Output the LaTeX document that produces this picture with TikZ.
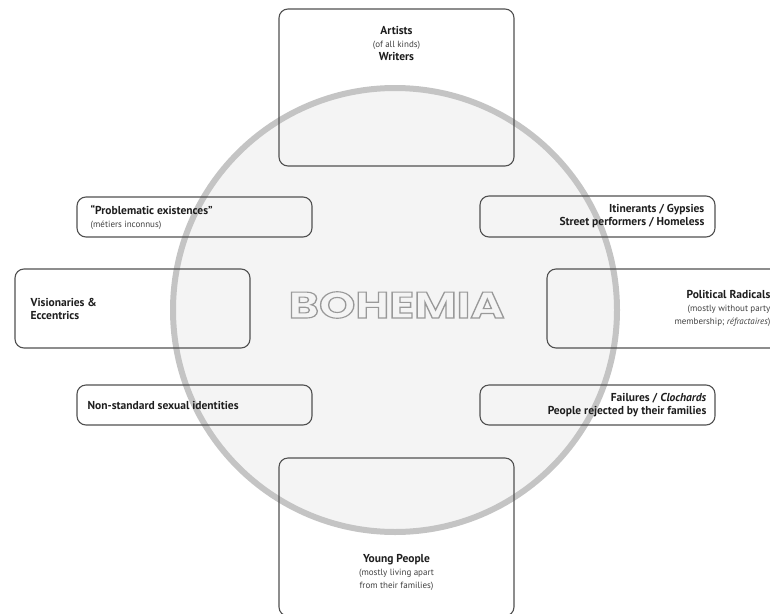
\documentclass[tikz,border=0pt]{standalone}
\usepackage{fontspec}
\setmainfont{PT Sans}
\newfontfamily\bohemfont{Poppins}
\usetikzlibrary{positioning}

\definecolor{ringgray}{HTML}{C4C4C4}
\definecolor{circlefill}{HTML}{F4F4F4}
\definecolor{boxgray}{HTML}{505050}
\definecolor{txtdark}{HTML}{1E1E1E}
\definecolor{notegray}{HTML}{404040}

\newcommand{\note}[1]{{\mdseries\fontsize{9}{11}\selectfont\color{notegray}#1}}
% hollow letters, stroked only
\newcommand{\hollow}[1]{\special{pdf:literal direct 1 Tr 1.1 w 0.6 G}#1\special{pdf:literal direct 0 Tr}}

\tikzset{
  group/.style={draw=boxgray, line width=1.1pt, rounded corners=9pt,
    minimum width=235pt, inner sep=0pt},
  grouptext/.style={inner sep=0pt, text=txtdark,
    font=\fontsize{11.5}{13}\selectfont\bfseries},
  ring/.style={circle, draw=ringgray, line width=6pt, fill=circlefill,
    minimum size=444pt, inner sep=0pt},
}

\begin{document}
\begin{tikzpicture}[x=1pt,y=-1pt]
\useasboundingbox (0,0) rectangle (770,613);
\clip (0,0) rectangle (770,613);

% the circle in the middle
\node[ring] (bohemia) at (395,310) {};
\node[inner sep=0pt] (bohemia text) at (396.5,305)
  {\scalebox{1.25}[1]{\bohemfont\bfseries\fontsize{37}{40}\selectfont\hollow{BOHEMIA}}};

% groups round it
\node[group, minimum height=157pt] (artists) at (396.5,87.5) {};
\node[group, minimum height=40pt] (problem) at (194.5,217) {};
\node[group, minimum height=41pt] (itinerants) at (597.5,216.5) {};
\node[group, minimum height=79pt] (visionaries) at (132.5,308.5) {};
\node[group, minimum height=79pt] (radicals) at (664.5,308.5) {};
\node[group, minimum height=40pt] (sexual) at (194.5,405) {};
\node[group, minimum height=40pt] (failures) at (597.5,405) {};
\node[group, minimum height=158pt] (young) at (396.5,537) {};

% their texts
\node[grouptext, align=center, below=18pt of artists.north] (artists text)
  {Artists\\\note{(of all kinds)}\\Writers};
\node[grouptext, align=left, right=14pt of problem.west] (problem text)
  {“Problematic existences”\\\note{(métiers inconnus)}};
\node[grouptext, align=right, left=11pt of itinerants.east] (itinerants text)
  {Itinerants / Gypsies\\Street performers / Homeless};
\node[grouptext, align=left, right=16pt of visionaries.west] (visionaries text)
  {Visionaries \&\\Eccentrics};
\node[grouptext, align=right, left=12pt of radicals.east] (radicals text)
  {Political Radicals\\\note{(mostly without party}\\\note{membership; \textit{réfractaires})}};
\node[grouptext, right=11pt of sexual.west] (sexual text)
  {Non-standard sexual identities};
\node[grouptext, align=right, left=9pt of failures.east] (failures text)
  {Failures / \textit{Clochards}\\People rejected by their families};
\node[grouptext, align=center, above=26pt of young.south] (young text)
  {Young People\\\note{(mostly living apart}\\\note{from their families)}};
\end{tikzpicture}
\end{document}
